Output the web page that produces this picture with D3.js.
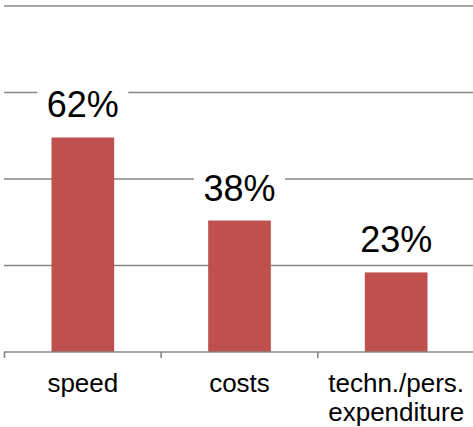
<!DOCTYPE html>
<html><head><meta charset="utf-8">
<script src="https://cdn.jsdelivr.net/npm/d3@7"></script>
<style>html,body{margin:0;padding:0;background:#fff;}svg{display:block;}</style>
</head><body>
<script>
const categories = ["speed", "costs", "techn./pers.\nexpenditure"];
const values = [62, 38, 23];
const valueLabels = ["62%", "38%", "23%"];
const gridTicks = [25, 50, 75, 100];

const W = 473, H = 427;
const svg = d3.select("body").append("svg").attr("width", W).attr("height", H);
const x = d3.scaleBand().domain(categories).range([4.5, 474.5]).padding(0);
const y = d3.scaleLinear().domain([0, 100]).range([352, 6]);
const font = "Liberation Sans, Arial, sans-serif";
const gray = "#878787";

// gridlines
svg.append("g").selectAll("line").data(gridTicks).join("line")
  .attr("x1", 4).attr("x2", W)
  .attr("y1", d => y(d)).attr("y2", d => y(d))
  .attr("stroke", gray).attr("stroke-width", 1.6);

// bars
const bw = x.bandwidth() * 0.4;
svg.append("g").selectAll("rect").data(values).join("rect")
  .attr("x", (d, i) => x(categories[i]) + x.bandwidth() * 0.3)
  .attr("width", bw)
  .attr("y", d => y(d))
  .attr("height", d => y(0) - y(d))
  .attr("fill", "#C0504D");

// axis
const axis = d3.axisBottom(x).tickSize(6).tickFormat("");
const ag = svg.append("g").attr("transform", `translate(0,${y(0)})`).call(axis);
ag.select(".domain").remove();
ag.selectAll(".tick").attr("transform", d => `translate(${x(d)},0)`);
ag.selectAll(".tick line").attr("stroke", gray).attr("stroke-width", 1.6);
svg.append("line").attr("x1", 4).attr("x2", W).attr("y1", y(0)).attr("y2", y(0))
  .attr("stroke", gray).attr("stroke-width", 1.6);

// value labels with white boxes
const lg = svg.append("g");
values.forEach((v, i) => {
  const cx = x(categories[i]) + x.bandwidth() / 2;
  const by = y(v) - 20;
  lg.append("rect").attr("x", cx - 45.5).attr("y", by - 30).attr("width", 91).attr("height", 38)
    .attr("fill", "#fff");
  lg.append("text").attr("x", cx).attr("y", by).attr("text-anchor", "middle")
    .attr("font-family", font).attr("font-size", 36).attr("fill", "#000").text(valueLabels[i]);
});

// category labels
categories.forEach(c => {
  const cx = x(c) + x.bandwidth() / 2;
  const t = svg.append("text").attr("x", cx).attr("y", 392).attr("text-anchor", "middle")
    .attr("font-family", font).attr("font-size", 26).attr("fill", "#000");
  c.split("\n").forEach((line, j) => {
    t.append("tspan").attr("x", cx).attr("dy", j === 0 ? 0 : 29).text(line);
  });
});
</script>
</body></html>
